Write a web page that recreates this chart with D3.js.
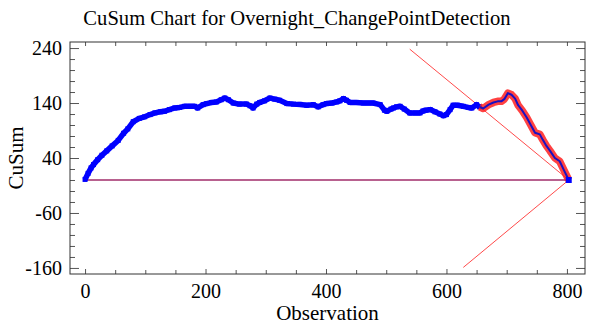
<!DOCTYPE html>
<html>
<head>
<meta charset="utf-8">
<script src="https://cdn.jsdelivr.net/npm/d3@7"></script>
<style>
  html, body { margin: 0; padding: 0; background: #fff; }
  svg text { font-family: "Liberation Serif", "Times New Roman", serif; fill: #000; }
</style>
</head>
<body>
<div id="chart"></div>
<script>
// observation index / cusum value
const obs = [0, 5, 10, 14, 21, 28, 36, 45, 55, 64, 71, 80, 90, 99, 108, 116, 125, 132, 140, 149,
  157, 165, 174, 182, 187, 196, 202, 210, 218, 226, 232, 238, 246, 256, 268, 274, 279, 285, 290, 298,
  307, 315, 323, 335, 346, 357, 368, 379, 387, 395, 401, 410, 418, 423, 429, 434, 440, 450, 462, 470,
  478, 490, 497, 501, 508, 512, 517, 523, 530, 539, 548, 556, 561, 566, 573, 581, 589, 595, 600, 606,
  611, 618, 628, 636, 642, 650, 655, 661, 670, 678, 685, 691, 696, 702, 708, 714, 719, 726, 733, 740,
  747, 755, 760, 766, 772, 780, 788, 795, 803];
const cusum = [1, 12, 22, 28, 37, 45, 53, 62, 72, 85, 93, 106, 112, 115, 119, 122, 124, 125, 128, 131,
  132, 134, 134, 134, 131, 137, 139, 141, 142, 146, 149, 146, 140, 138, 138, 135, 131, 138, 141, 144,
  149, 147, 145, 139, 138, 137.5, 136, 137, 133, 137, 139, 140, 142, 144, 148, 145, 141, 141, 140, 140,
  140, 137, 127, 125, 129, 131, 133, 134, 129, 122, 122, 122, 125.5, 127, 128, 124, 120, 117, 119, 128,
  136, 136, 134, 132, 131, 137, 133, 130, 137, 141, 143, 143, 147, 158, 155, 148, 136, 126, 114, 100,
  86, 83, 73, 62, 53, 40, 34, 18, 0];
const changePoint = 655;

// V-mask arms: [observation, cusum]
const maskUpper = [[539, 238], [803, 0]];
const maskLower = [[628, -159], [803, 0]];

const xMajor = [0, 200, 400, 600, 800];
const xMinor = [50, 100, 150, 250, 300, 350, 450, 500, 550, 650, 700, 750];
const yMajor = [-160, -60, 40, 140, 240];
const yMinor = [-140, -120, -100, -80, -40, -20, 0, 20, 60, 80, 100, 120, 160, 180, 200, 220];

const width = 590, height = 325;
const margin = {top: 42, right: 5, bottom: 51, left: 70};

const svg = d3.select('#chart').append('svg')
  .attr('width', width)
  .attr('height', height);

const x = d3.scaleLinear().domain([-25, 830]).range([margin.left, width - margin.right]);
const y = d3.scaleLinear().domain([-171, 251]).range([height - margin.bottom, margin.top]);

const points = obs.map((o, i) => ({o: o, v: cusum[i]}));
const before = points.filter(d => d.o <= changePoint);
const after = points.filter(d => d.o >= changePoint);

const line = d3.line().x(d => x(d.o)).y(d => y(d.v)).curve(d3.curveLinear);

const plot = svg.append('g');

// zero line
plot.append('line')
  .attr('x1', x(obs[0])).attr('x2', x(obs[obs.length - 1]))
  .attr('y1', y(0)).attr('y2', y(0))
  .attr('stroke', '#a02c6a')
  .attr('stroke-width', 1.4);

// v-mask
[maskUpper, maskLower].forEach(arm => {
  plot.append('line')
    .attr('x1', x(arm[0][0])).attr('y1', y(arm[0][1]))
    .attr('x2', x(arm[1][0])).attr('y2', y(arm[1][1]))
    .attr('stroke', '#ff4a4a')
    .attr('stroke-width', 1);
});

// blue section
plot.append('path')
  .datum(before)
  .attr('d', line)
  .attr('fill', 'none')
  .attr('stroke', '#0000ff')
  .attr('stroke-width', 5.5)
  .attr('stroke-linejoin', 'round');

plot.selectAll('.mk')
  .data(before)
  .enter().append('rect')
  .attr('class', 'mk')
  .attr('x', d => x(d.o) - 2.5)
  .attr('y', d => y(d.v) - 2.5)
  .attr('width', 5).attr('height', 5)
  .attr('fill', '#0000ff');

// red section after the change point
plot.append('path')
  .datum(after)
  .attr('d', line)
  .attr('fill', 'none')
  .attr('stroke', '#ff2020')
  .attr('stroke-opacity', 0.85)
  .attr('stroke-width', 7.5)
  .attr('stroke-linejoin', 'round');

plot.append('path')
  .datum(after)
  .attr('d', line)
  .attr('fill', 'none')
  .attr('stroke', '#1a10c0')
  .attr('stroke-width', 2)
  .attr('stroke-linejoin', 'round');

// last point
const last = points[points.length - 1];
plot.append('rect')
  .attr('x', x(last.o) - 3).attr('y', y(last.v) - 3)
  .attr('width', 6).attr('height', 6)
  .attr('fill', '#0000ff');

// axes (ticks point inward)
const tickColor = '#555';
const fmt = d => String(d);
function styleAxis(g) {
  g.select('.domain').remove();
  g.selectAll('.tick line').attr('stroke', tickColor);
  g.selectAll('.tick text').style('font-size', '20px').attr('fill', '#000');
}

const yB = height - margin.bottom, yT = margin.top;
const xL = margin.left, xR = width - margin.right;

svg.append('g').attr('transform', `translate(0,${yB})`)
  .call(d3.axisBottom(x).tickValues(xMajor).tickFormat(fmt).tickSizeInner(-5).tickSizeOuter(0).tickPadding(10))
  .call(styleAxis);
svg.append('g').attr('transform', `translate(0,${yB})`)
  .call(d3.axisBottom(x).tickValues(xMinor).tickFormat('').tickSizeInner(-4).tickSizeOuter(0))
  .call(styleAxis);
svg.append('g').attr('transform', `translate(0,${yT})`)
  .call(d3.axisTop(x).tickValues(xMajor.concat(xMinor)).tickFormat('').tickSizeInner(-4).tickSizeOuter(0))
  .call(styleAxis);

svg.append('g').attr('transform', `translate(${xL},0)`)
  .call(d3.axisLeft(y).tickValues(yMajor).tickFormat(fmt).tickSizeInner(-9).tickSizeOuter(0).tickPadding(8))
  .call(styleAxis);
svg.append('g').attr('transform', `translate(${xL},0)`)
  .call(d3.axisLeft(y).tickValues(yMinor).tickFormat('').tickSizeInner(-5).tickSizeOuter(0))
  .call(styleAxis);
svg.append('g').attr('transform', `translate(${xR},0)`)
  .call(d3.axisRight(y).tickValues(yMajor).tickFormat('').tickSizeInner(-9).tickSizeOuter(0))
  .call(styleAxis);
svg.append('g').attr('transform', `translate(${xR},0)`)
  .call(d3.axisRight(y).tickValues(yMinor).tickFormat('').tickSizeInner(-5).tickSizeOuter(0))
  .call(styleAxis);

// frame
svg.append('rect')
  .attr('x', xL).attr('y', yT)
  .attr('width', xR - xL).attr('height', yB - yT)
  .attr('fill', 'none')
  .attr('stroke', '#333')
  .attr('stroke-width', 1);

// titles
svg.append('text')
  .attr('x', width / 2 + 2).attr('y', 25)
  .attr('text-anchor', 'middle')
  .style('font-size', '20.6px')
  .text('CuSum Chart for Overnight_ChangePointDetection');

svg.append('text')
  .attr('x', (xL + xR) / 2).attr('y', 320)
  .attr('text-anchor', 'middle')
  .style('font-size', '21px')
  .text('Observation');

svg.append('text')
  .attr('transform', `translate(23,${(yT + yB) / 2}) rotate(-90)`)
  .attr('text-anchor', 'middle')
  .style('font-size', '21px')
  .text('CuSum');
</script>
</body>
</html>
